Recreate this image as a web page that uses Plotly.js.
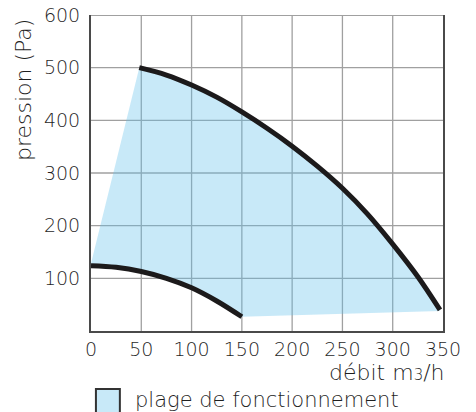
<!DOCTYPE html>
<html>
<head>
<meta charset="utf-8">
<script src="https://cdn.plot.ly/plotly-3.0.1.min.js"></script>
<style>html,body{margin:0;padding:0;background:#fff;}#chart{width:476px;height:412px;}</style>
</head>
<body>
<div id="chart"></div>
<script>
// Upper curve (max performance)
const upperX = [48, 75, 100, 125, 150, 175, 200, 225, 250, 275, 300, 325, 347];
const upperY = [500, 486, 467, 444, 416, 385, 351, 313, 271, 222, 165, 103, 40];
// Lower curve (min performance)
const lowerX = [0, 25, 50, 75, 100, 125, 150];
const lowerY = [124, 121, 113, 100, 82, 57, 27];
// Operating range corners
const rangeStart = [0, 128];
const rangeBottomRight = [347, 38];
const xTicks = [0, 50, 100, 150, 200, 250, 300, 350];
const yTicks = [100, 200, 300, 400, 500, 600];
const legendLabel = 'plage de fonctionnement';
const xTitle = 'débit m<span style="font-size:15px">3</span>/h';
const yTitle = 'pression (Pa)';

const fillX = [rangeStart[0]].concat(upperX, [rangeBottomRight[0]], lowerX.slice().reverse());
const fillY = [rangeStart[1]].concat(upperY, [rangeBottomRight[1]], lowerY.slice().reverse());

const FONT = 'DejaVu Sans, Liberation Sans, Arial, sans-serif';
const TXT = '#1f1f1f';
const FILL = 'rgba(98,192,235,0.35)';
const GRID = '#a0a0a0';

const traces = [
  {x: fillX, y: fillY, mode: 'lines', fill: 'toself', fillcolor: FILL,
   line: {width: 0, color: FILL}, hoverinfo: 'skip', showlegend: false},
  {x: upperX, y: upperY, mode: 'lines', line: {color: '#1c1a1b', width: 5, shape: 'spline', smoothing: 1}, showlegend: false},
  {x: lowerX, y: lowerY, mode: 'lines', line: {color: '#1c1a1b', width: 5, shape: 'spline', smoothing: 1}, showlegend: false}
];

// grid lines built from the tick arrays
const gridShapes = [];
xTicks.slice(1, -1).forEach(v => gridShapes.push({type: 'line', layer: 'below', xref: 'x', yref: 'y domain',
  x0: v, x1: v, y0: 0, y1: 1, line: {color: GRID, width: 1.3}}));
yTicks.forEach(v => gridShapes.push({type: 'line', layer: 'below', xref: 'x domain', yref: 'y',
  x0: 0, x1: 1, y0: v, y1: v, line: {color: GRID, width: v === 600 ? 2 : 1.3}}));

const layout = {
  width: 476, height: 412,
  margin: {l: 91, r: 33, t: 15, b: 81},
  paper_bgcolor: '#fff', plot_bgcolor: '#fff',
  font: {family: FONT, color: TXT, size: 19, weight: 300},
  showlegend: false,
  xaxis: {
    range: [0, 350], tickvals: xTicks, ticktext: xTicks.map(String),
    showgrid: false, zeroline: false, showline: true, linecolor: '#4a4a4a', linewidth: 2, mirror: false,
    ticks: '', ticklabelstandoff: 0, layer: 'above traces',
    tickfont: {family: FONT, size: 19, color: TXT, weight: 300}, fixedrange: true
  },
  yaxis: {
    range: [0, 600], tickvals: yTicks, ticktext: yTicks.map(String),
    showgrid: false, zeroline: false, showline: true, linecolor: '#4a4a4a', linewidth: 2, mirror: true,
    ticks: '', ticklabelstandoff: 5, layer: 'above traces',
    tickfont: {family: FONT, size: 19, color: TXT, weight: 300}, fixedrange: true
  },
  shapes: gridShapes.concat([
    {type: 'rect', xref: 'paper', yref: 'paper', x0: 0.014, x1: 0.082, y0: -0.1835, y1: -0.262,
     fillcolor: '#c8e9f8', line: {color: '#333', width: 2}}
  ]),
  annotations: [
    {text: yTitle, xref: 'paper', yref: 'paper', x: -0.19, y: 0.763, xanchor: 'center', yanchor: 'middle',
     textangle: -90, showarrow: false, font: {family: FONT, size: 22, color: TXT, weight: 300}},
    {text: xTitle, xref: 'paper', yref: 'paper', x: 1.011, y: -0.13, xanchor: 'right', yanchor: 'middle',
     showarrow: false, font: {family: FONT, size: 22, color: TXT, weight: 300}},
    {text: legendLabel, xref: 'paper', yref: 'paper', x: 0.119, y: -0.218, xanchor: 'left', yanchor: 'middle',
     showarrow: false, font: {family: FONT, size: 21, color: TXT, weight: 300}}
  ]
};

Plotly.newPlot('chart', traces, layout, {displayModeBar: false, staticPlot: true});
</script>
</body>
</html>
